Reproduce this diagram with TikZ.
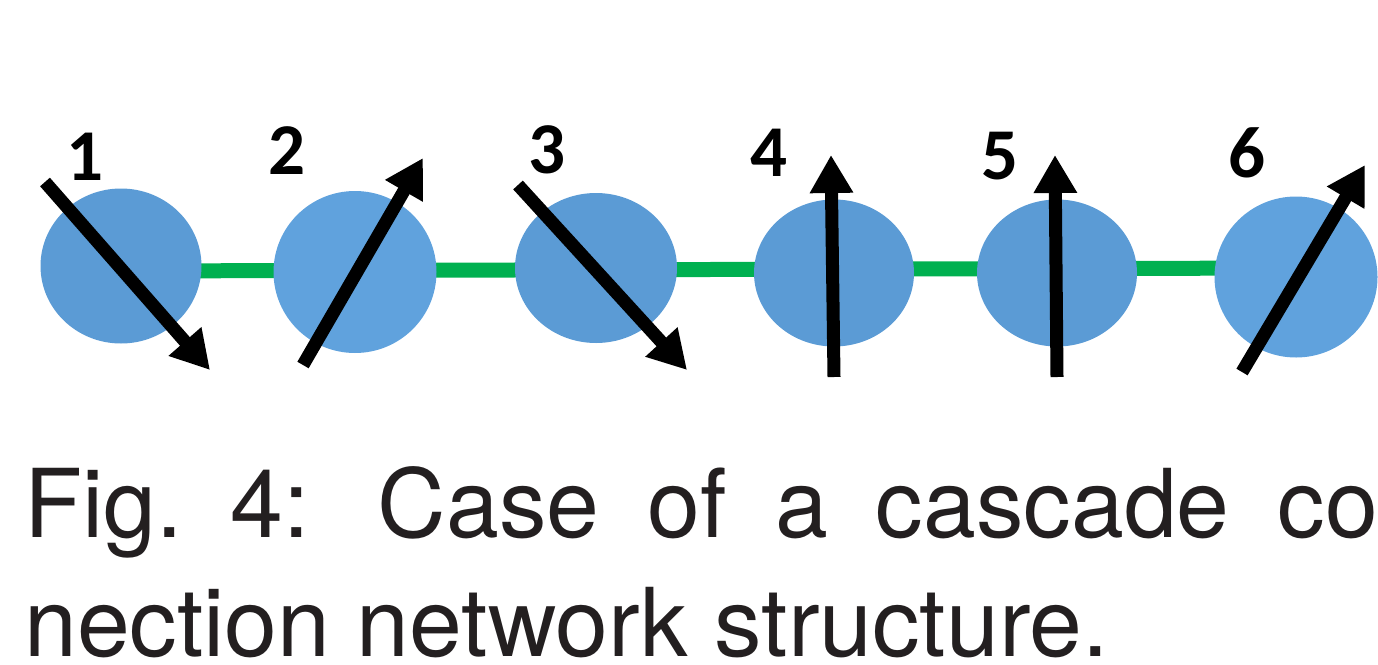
\documentclass[tikz,border=0pt]{standalone}
\usepackage{fontspec}
\setmainfont{TeX Gyre Heros}
\newfontfamily\labfont{Carlito}
\usetikzlibrary{arrows.meta,shapes.geometric,backgrounds}
\definecolor{ballblue}{HTML}{5B9BD5}
\definecolor{balllight}{HTML}{60A2DD}
\definecolor{linkgreen}{HTML}{00B050}
\definecolor{captext}{HTML}{231F20}
\tikzset{
  ball/.style={ellipse, fill=ballblue, draw=none, inner sep=0pt},
  link/.style={draw=linkgreen, line width=15pt},
  spin/.style={draw=black, line width=13pt,
    -{Triangle[length=38pt, width=41pt]}},
  idx/.style={inner sep=0pt, font=\labfont\bfseries\fontsize{73}{80}\selectfont},
  capline/.style={anchor=base west, inner sep=0pt, text=captext,
    font=\fontsize{95}{118}\selectfont}
}
\begin{document}
\begin{tikzpicture}[x=1pt, y=-1pt]
\useasboundingbox (0,0) rectangle (1378,664);

% the chain of six sites
\node[ball, minimum width=161pt, minimum height=155pt] (n1) at (121,266) {};
\node[ball, fill=balllight, minimum width=163pt, minimum height=162pt] (n2) at (355,272) {};
\node[ball, minimum width=162pt, minimum height=150pt] (n3) at (596,268) {};
\node[ball, minimum width=160pt, minimum height=147pt] (n4) at (834,273) {};
\node[ball, minimum width=160pt, minimum height=147pt] (n5) at (1057,273) {};
\node[ball, fill=balllight, minimum width=163pt, minimum height=161pt] (n6) at (1296,277) {};

% nearest-neighbour bonds, drawn underneath the sites
\coordinate (gA) at (0,271);
\coordinate (gB) at (0,268);
\begin{scope}[on background layer]
  \draw[link] (n1.center |- gA) -- (n6.center |- gB);
\end{scope}

% spin arrows through each site
\draw[spin] ([shift={(-76,-84)}]n1.center) -- ([shift={(89,104)}]n1.center);
\draw[spin] ([shift={(-52,93)}]n2.center) -- ([shift={(68,-114)}]n2.center);
\draw[spin] ([shift={(-78,-83)}]n3.center) -- ([shift={(91,102)}]n3.center);
\draw[spin] ([shift={(0,104)}]n4.center) -- ([shift={(-3,-118)}]n4.center);
\draw[spin] ([shift={(0,104)}]n5.center) -- ([shift={(-2,-118)}]n5.center);
\draw[spin] ([shift={(-54,95)}]n6.center) -- ([shift={(69,-112)}]n6.center);

% site indices
\node[idx] (l1) at (85,157) {1};
\node[idx] (l2) at (287,151) {2};
\node[idx] (l3) at (547,150) {3};
\node[idx] (l4) at (769,153) {4};
\node[idx] (l5) at (1000,156) {5};
\node[idx] (l6) at (1247,153) {6};

% caption
\node[capline] (cap1) at (24,537)
  {\makebox[1354pt][l]{Fig.\hfill 4:\hspace{20pt}\hfill Case\hfill of\hfill a\hfill cascade\hfill co}};
\node[capline] (cap2) at (24,656) {nection network structure.};
\end{tikzpicture}
\end{document}
